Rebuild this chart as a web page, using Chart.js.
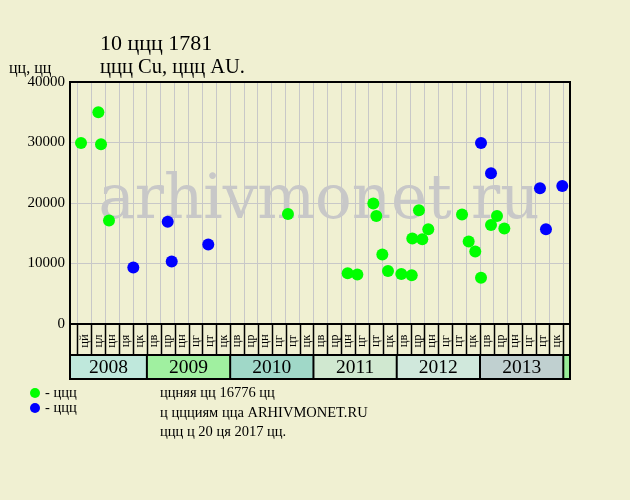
<!DOCTYPE html>
<html>
<head>
<meta charset="utf-8">
<script src="https://cdn.jsdelivr.net/npm/chart.js@4.4.1/dist/chart.umd.min.js"></script>
<style>
    html, body { margin: 0; padding: 0; background: #f0f0d2; }
    #wrap { width: 630px; height: 500px; position: relative; }
</style>
</head>
<body>
<div id="wrap"><canvas id="priceChart" width="630" height="500"></canvas></div>
<script>
// --- DATA ---
const titleText = '10 ццц 1781';
const subtitleText = 'ццц Cu, ццц AU.';
const yAxisTitle = 'цц, цц';
const yMax = 40000;
const yStep = 10000;

const years = [2008, 2009, 2010, 2011, 2012, 2013, 2014];
const yearColors = ['#bfe8dc', '#a0f0a0', '#a0d8c8', '#d0e8d0', '#d0e8dc', '#c0d0d0', '#98ec98'];
const monthLabels2008 = ['цй', 'цл', 'цн', 'ця', 'цк'];
const monthLabels = ['цв', 'цр', 'цн', 'цг', 'цт', 'цк'];

// x = decimal year of the sale, y = price
const greenX = [2008.209, 2008.417, 2008.449, 2008.545, 2010.694, 2011.411, 2011.527, 2011.719,
                2011.755, 2011.827, 2011.895, 2012.055, 2012.180, 2012.187, 2012.267, 2012.307,
                2012.379, 2012.784, 2012.864, 2012.943, 2013.012, 2013.132, 2013.204, 2013.292];
const greenY = [29900, 35000, 29700, 17100, 18200, 8400, 8200, 19900,
                17850, 11500, 8750, 8250, 8050, 14150, 18800, 14000,
                15650, 18100, 13650, 12000, 7650, 16350, 17850, 15800];
const blueX = [2008.837, 2009.250, 2009.298, 2009.737, 2013.012, 2013.132, 2013.720, 2013.792, 2013.988];
const blueY = [9350, 16900, 10350, 13150, 29900, 24900, 22450, 15650, 22800];

const legendLabels = ['- ццц', '- ццц'];
const noteLines = ['ццняя цц 16776 цц', 'ц ццциям цца ARHIVMONET.RU', 'ццц ц 20 ця 2017 цц.'];

// x range: a bit before March 2008 to just after January 2014
const xMin = 2008.0767;
const xMax = 2014.0806;

// --- HELPERS ---
const SERIF = '"Liberation Serif", serif';
const BG = '#f0f0d2';

// grid every two months starting March 2008
const gridValues = [];
for (let k = 0; k <= 35; k++) gridValues.push(2008 + (k + 1) / 6);

const allMonthLabels = monthLabels2008.slice();
for (let i = 0; i < 5; i++) allMonthLabels.push(...monthLabels);

function toPoints(xs, ys) {
    return xs.map((x, i) => ({ x: x, y: ys[i] }));
}

// --- DECORATION PLUGIN ---
const decorPlugin = {
    id: 'decor',
    beforeDraw(chart) {
        const ctx = chart.ctx;
        ctx.save();
        ctx.fillStyle = BG;
        ctx.fillRect(0, 0, chart.width, chart.height);
        ctx.restore();
    },
    beforeDatasetsDraw(chart) {
        const { ctx, chartArea } = chart;
        ctx.save();
        ctx.fillStyle = '#c8c8c8';
        ctx.font = '61px "DejaVu Serif", serif';
        ctx.textAlign = 'center';
        ctx.textBaseline = 'alphabetic';
        ctx.fillText('arhivmonet.ru', (chartArea.left + chartArea.right) / 2 - 1, 218);
        ctx.restore();
    },
    afterDatasetsDraw(chart) {
        const { ctx, chartArea } = chart;
        const xs = chart.scales.x;
        const L = chartArea.left, R = chartArea.right, T = chartArea.top, B = chartArea.bottom;
        const rowBottom = B + 31;
        const bandBottom = rowBottom + 24;

        ctx.save();
        // year band cells
        years.forEach((yr, i) => {
            const x0 = Math.max(L, xs.getPixelForValue(yr));
            const x1 = Math.min(R, xs.getPixelForValue(yr + 1));
            ctx.fillStyle = yearColors[i];
            ctx.fillRect(x0, rowBottom, x1 - x0, bandBottom - rowBottom);
            if (x1 - x0 > 40) {
                ctx.fillStyle = '#000';
                ctx.font = '19.5px ' + SERIF;
                ctx.textAlign = 'center';
                ctx.textBaseline = 'middle';
                ctx.fillText(String(yr), (x0 + x1) / 2, (rowBottom + bandBottom) / 2 + 1);
            }
        });

        ctx.strokeStyle = '#000';
        // month dividers
        ctx.lineWidth = 1.5;
        gridValues.forEach(v => {
            const x = Math.round(xs.getPixelForValue(v)) + 0.5;
            ctx.beginPath();
            ctx.moveTo(x, B);
            ctx.lineTo(x, rowBottom);
            ctx.stroke();
        });
        // year dividers
        ctx.lineWidth = 2;
        years.slice(1).forEach(yr => {
            const x = xs.getPixelForValue(yr);
            ctx.beginPath();
            ctx.moveTo(x, rowBottom);
            ctx.lineTo(x, bandBottom);
            ctx.stroke();
        });
        // frames
        ctx.strokeRect(L, T, R - L, B - T);
        ctx.strokeRect(L, B, R - L, rowBottom - B);
        ctx.strokeRect(L, rowBottom, R - L, bandBottom - rowBottom);

        // month labels, rotated
        ctx.fillStyle = '#000';
        ctx.font = '12.5px ' + SERIF;
        ctx.textAlign = 'center';
        ctx.textBaseline = 'middle';
        allMonthLabels.forEach((lab, k) => {
            const x = xs.getPixelForValue(2008 + (k + 1.5) / 6);
            ctx.save();
            ctx.translate(x, B + 17);
            ctx.rotate(-Math.PI / 2);
            ctx.fillText(lab, 0, 0);
            ctx.restore();
        });

        // titles
        ctx.textAlign = 'left';
        ctx.textBaseline = 'alphabetic';
        ctx.font = '22px ' + SERIF;
        ctx.fillText(titleText, 100, 50);
        ctx.font = '20.5px ' + SERIF;
        ctx.fillText(subtitleText, 100, 73);
        ctx.font = '16px ' + SERIF;
        ctx.fillText(yAxisTitle, 9, 73);

        // legend
        const dotColors = ['#00ff00', '#0000ff'];
        ctx.font = '14.5px ' + SERIF;
        legendLabels.forEach((lab, i) => {
            const cy = 393 + i * 15;
            ctx.fillStyle = dotColors[i];
            ctx.beginPath();
            ctx.arc(35, cy, 5, 0, Math.PI * 2);
            ctx.fill();
            ctx.fillStyle = '#000';
            ctx.fillText(lab, 45, cy + 4);
        });
        noteLines.forEach((line, i) => {
            ctx.fillText(line, 160, 397 + i * 19.5);
        });
        ctx.restore();
    }
};

// --- CHART ---
document.addEventListener('DOMContentLoaded', function () {
    const ctx = document.getElementById('priceChart').getContext('2d');
    new Chart(ctx, {
        type: 'scatter',
        data: {
            datasets: [
                {
                    label: 'green',
                    data: toPoints(greenX, greenY),
                    backgroundColor: '#00ff00',
                    borderWidth: 0,
                    pointRadius: 6
                },
                {
                    label: 'blue',
                    data: toPoints(blueX, blueY),
                    backgroundColor: '#0000ff',
                    borderWidth: 0,
                    pointRadius: 6
                }
            ]
        },
        options: {
            responsive: false,
            animation: false,
            layout: { padding: { left: 0, right: 60, top: 82, bottom: 0 } },
            plugins: {
                legend: { display: false },
                tooltip: { enabled: false }
            },
            scales: {
                x: {
                    type: 'linear',
                    min: xMin,
                    max: xMax,
                    afterBuildTicks: s => { s.ticks = gridValues.map(v => ({ value: v })); },
                    afterFit: s => { s.height = 176; },
                    ticks: { display: false },
                    grid: { color: '#c8c8c8', drawTicks: false },
                    border: { display: false }
                },
                y: {
                    min: 0,
                    max: yMax,
                    afterFit: s => { s.width = 70; },
                    ticks: {
                        stepSize: yStep,
                        padding: 5,
                        color: '#000',
                        font: { family: SERIF, size: 15 },
                        callback: v => String(v)
                    },
                    grid: { color: '#c8c8c8', drawTicks: false },
                    border: { display: false }
                }
            }
        },
        plugins: [decorPlugin]
    });
});
</script>
</body>
</html>
